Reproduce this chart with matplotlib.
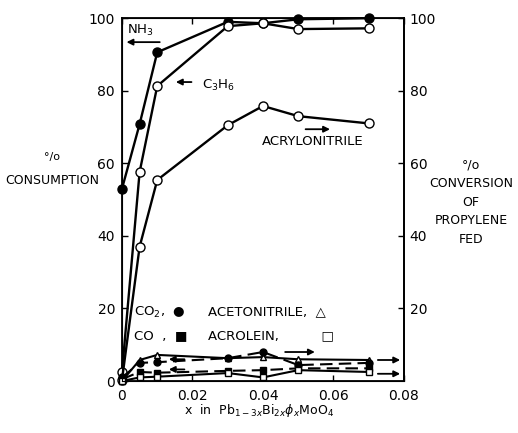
"""Consumption / conversion vs x in Pb(1-3x)Bi(2x)phi(x)MoO4."""

import matplotlib

matplotlib.use("Agg")
import matplotlib.pyplot as plt
from matplotlib.ticker import FuncFormatter

plt.rcParams["font.family"] = ["DejaVu Sans"]

# ---------------------------------------------------------------------------
# Data
# ---------------------------------------------------------------------------

x = [0.0, 0.005, 0.01, 0.03, 0.04, 0.05, 0.07]

nh3 = [53.0, 70.8, 90.6, 99.0, 98.6, 99.7, 100.0]
c3h6 = [2.5, 57.6, 81.3, 97.8, 98.6, 97.0, 97.2]
acrylonitrile = [0.3, 37.0, 55.4, 70.5, 75.8, 73.0, 71.0]

acetonitrile = [0.0, 5.8, 7.2, 6.3, 6.6, 6.0, 5.8]
co2 = [1.0, 5.0, 5.2, 6.3, 8.0, 4.4, 5.0]
co = [0.5, 2.5, 2.3, 2.8, 3.0, 3.5, 3.5]
acrolein = [0.0, 1.0, 1.2, 2.2, 1.0, 3.0, 2.5]

x_ticks = [0, 0.02, 0.04, 0.06, 0.08]
y_ticks = [0, 20, 40, 60, 80, 100]
y_ticks_right = [20, 40, 60, 80, 100]

# ---------------------------------------------------------------------------
# Figure
# ---------------------------------------------------------------------------

fig = plt.figure(figsize=(5.18, 4.33), dpi=100)
ax = fig.add_axes([0.2355, 0.120, 0.5444, 0.838])
ax.set_xlim(0, 0.08)
ax.set_ylim(0, 100)

lw = 1.7
ms = 6.5
common = dict(color="black", lw=lw, ms=ms, clip_on=False, zorder=3)

ax.plot(x, nh3, "-o", mfc="black", **common)
ax.plot(x, c3h6, "-o", mfc="white", **common)
ax.plot(x, acrylonitrile, "-o", mfc="white", **common)

small = dict(color="black", lw=1.5, ms=5, clip_on=False, zorder=3)
ax.plot(x, acetonitrile, "-^", mfc="white", **small)
ax.plot(x, co2, "--o", mfc="black", dashes=(6, 3), **small)
ax.plot(x, co, "--s", mfc="black", dashes=(6, 3), **small)
ax.plot(x, acrolein, "-s", mfc="white", **small)

# axes styling
for side in ("left", "right", "top", "bottom"):
    ax.spines[side].set_linewidth(1.3)
ax.set_xticks(x_ticks)
ax.xaxis.set_major_formatter(FuncFormatter(lambda v, _: "0" if v == 0 else f"{v:.2f}"))
ax.set_yticks(y_ticks)
ax.tick_params(direction="in", length=4, width=1, labelsize=10, top=True, pad=5)
ax.tick_params(axis="x", pad=6)

ax2 = ax.twinx()
ax2.set_ylim(0, 100)
ax2.set_yticks(y_ticks_right)
ax2.tick_params(direction="in", length=4, width=1, labelsize=10, pad=4)
ax2.spines["right"].set_linewidth(1.3)

# axis labels
fig.text(0.100, 0.637, "°/o", ha="center", va="center", fontsize=8)
fig.text(0.100, 0.584, "CONSUMPTION", ha="center", va="center", fontsize=9)
fig.text(0.909, 0.533,
         "°/o\nCONVERSION\nOF\nPROPYLENE\nFED",
         ha="center", va="center", fontsize=9, linespacing=1.55)
fig.text(0.50, 0.052, r"x  in  Pb$_{1-3x}$Bi$_{2x}\phi_x$MoO$_4$",
         ha="center", va="center", fontsize=9)

# annotations with arrows
arrow = dict(arrowstyle="-|>", color="black", lw=1.3, mutation_scale=9)
ax.annotate("", xy=(0.0005, 93.4), xytext=(0.0115, 93.4), arrowprops=arrow)
ax.text(0.0015, 96.5, r"NH$_3$", fontsize=9.5, va="center")
ax.annotate("", xy=(0.0145, 82.4), xytext=(0.0205, 82.4), arrowprops=arrow)
ax.text(0.0228, 81.5, r"C$_3$H$_6$", fontsize=9.5, va="center")
ax.annotate("", xy=(0.0598, 69.4), xytext=(0.0513, 69.4), arrowprops=arrow)
ax.text(0.0397, 66.0, "ACRYLONITRILE", fontsize=9.5, va="center")

ax.annotate("", xy=(0.0555, 8.0), xytext=(0.0455, 8.0), arrowprops=arrow)
ax.annotate("", xy=(0.0797, 5.8), xytext=(0.0718, 5.8), arrowprops=arrow)
ax.annotate("", xy=(0.0797, 2.0), xytext=(0.0718, 2.0), arrowprops=arrow)
ax.annotate("", xy=(0.0125, 6.0), xytext=(0.0185, 6.0), arrowprops=arrow)
ax.annotate("", xy=(0.0125, 3.2), xytext=(0.0185, 3.2), arrowprops=arrow)

# legend text
ax.text(0.0035, 19.0, r"CO$_2$,  ●", fontsize=9.5, va="center")
ax.text(0.0035, 12.6, "CO  ,  ■", fontsize=9.5, va="center")
ax.text(0.0245, 19.0, "ACETONITRILE,  △", fontsize=9.5, va="center")
ax.text(0.0245, 12.6, "ACROLEIN,          □", fontsize=9.5, va="center")

fig.savefig("out.png", dpi=100)
